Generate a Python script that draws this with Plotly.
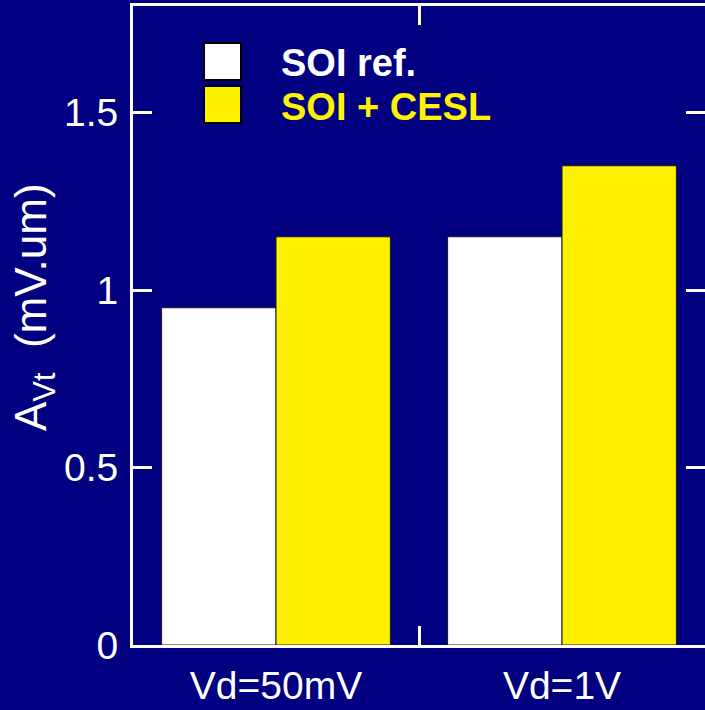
import plotly.graph_objects as go

# Threshold-voltage mismatch coefficient per drain bias
categories = ["Vd=50mV", "Vd=1V"]
series_names = ["SOI ref.", "SOI + CESL"]
soi_ref = [0.95, 1.15]
soi_cesl = [1.15, 1.35]
series_values = [soi_ref, soi_cesl]
series_colors = ["#FFFFFF", "#FFF200"]
y_ticks = [0, 0.5, 1, 1.5]
y_tick_labels = ["0", "0.5", "1", "1.5"]

NAVY = "#000080"
FONT = "Liberation Sans, Arial, sans-serif"

W, H = 705, 710
ML, MR, MT, MB = 133, 0, 6, 65

fig = go.Figure()
for name, vals, col in zip(series_names, series_values, series_colors):
    fig.add_trace(go.Bar(
        x=categories, y=vals, name=name,
        marker=dict(color=col, line=dict(color="#1a1a1a", width=1)),
        showlegend=False,
    ))

# invisible trace carrying the right-hand tick marks
fig.add_trace(go.Scatter(x=categories, y=[None, None], yaxis="y2",
                         showlegend=False, hoverinfo="skip"))

fig.update_layout(
    width=W, height=H,
    margin=dict(l=ML, r=MR, t=MT, b=MB, pad=0),
    paper_bgcolor=NAVY, plot_bgcolor=NAVY,
    barmode="group", bargap=0.2, bargroupgap=0,
    font=dict(family=FONT, color="white", size=38),
    xaxis=dict(
        type="category", range=[-0.5, 1.5],
        showline=True, linecolor="white", linewidth=3, mirror="ticks",
        ticks="inside", tickson="boundaries", ticklen=19, tickwidth=3,
        tickcolor="white", showgrid=False, zeroline=False,
        tickfont=dict(size=39, family=FONT, color="white"),
        ticklabelstandoff=4,
    ),
    yaxis=dict(
        range=[0, 1.8], tickvals=y_ticks, ticktext=y_tick_labels,
        showline=True, linecolor="white", linewidth=3, mirror=False,
        ticks="inside", ticklen=19, tickwidth=3, tickcolor="white",
        showgrid=False, zeroline=False,
        tickfont=dict(size=39, family=FONT, color="white"),
        ticklabelstandoff=4,
    ),
    yaxis2=dict(
        range=[0, 1.8], tickvals=y_ticks, overlaying="y", side="right",
        showline=False, ticks="inside", ticklen=19, tickwidth=3,
        tickcolor="white", showticklabels=False, showgrid=False,
        zeroline=False,
    ),
)

# y-axis title
fig.add_annotation(
    text="A<sub>Vt</sub>  (mV.um)", textangle=-90,
    xref="paper", yref="paper",
    x=(34 - ML) / (W - ML - MR), y=(H - MB - 307) / (H - MB - MT),
    xanchor="center", yanchor="middle", showarrow=False,
    font=dict(size=44, family=FONT, color="white"),
)

# legend: swatches and bold labels
pw, ph = W - ML - MR, H - MB - MT
def px_x(v):
    return (v - ML) / pw
def px_y(v):
    return (H - MB - v) / ph

legend_rows = [(43, 80), (86, 123)]
for (top, bot), name, col in zip(legend_rows, series_names, series_colors):
    fig.add_shape(type="rect", xref="paper", yref="paper",
                  x0=px_x(204), x1=px_x(241), y0=px_y(bot), y1=px_y(top),
                  fillcolor=col, line=dict(color="black", width=2))
    fig.add_annotation(text=f"<b>{name}</b>", xref="paper", yref="paper",
                       x=px_x(279), y=px_y((top + bot) / 2 + 2),
                       xanchor="left", yanchor="middle", showarrow=False,
                       font=dict(size=38, family=FONT, color=col))

fig.write_html("out.html")
